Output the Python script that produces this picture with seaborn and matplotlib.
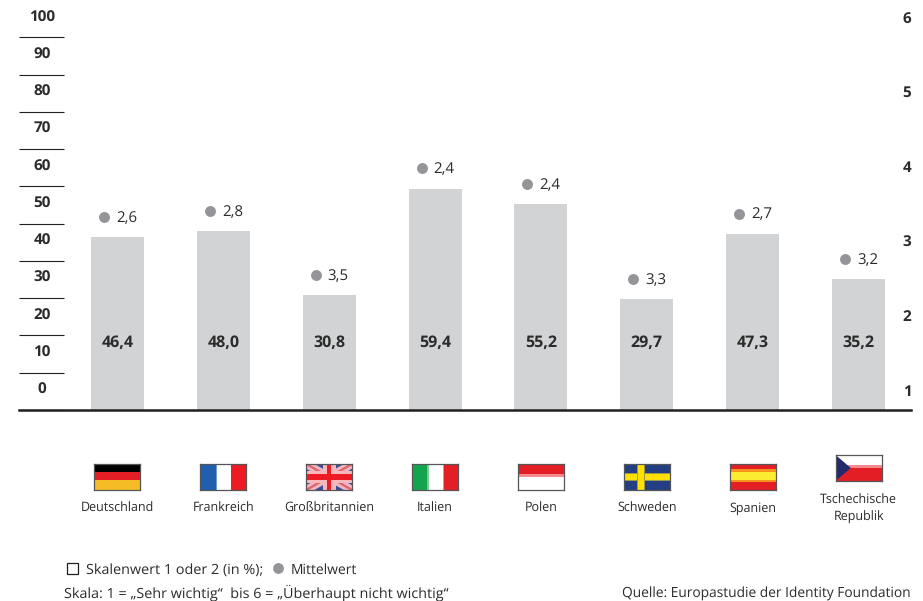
import pandas as pd
import matplotlib
matplotlib.use("Agg")
import matplotlib.pyplot as plt
from matplotlib.patches import Rectangle, Polygon
import seaborn as sns

# Werte aus der Grafik
laender = ["Deutschland", "Frankreich", "Großbritannien", "Italien",
           "Polen", "Schweden", "Spanien", "Tschechische\nRepublik"]
flaggen = ["de", "fr", "uk", "it", "pl", "se", "es", "cz"]
skalenwert = [46.4, 48.0, 30.8, 59.4, 55.2, 29.7, 47.3, 35.2]
mittelwert = [2.6, 2.8, 3.5, 2.4, 2.4, 3.3, 2.7, 3.2]
links_ticks = [0, 10, 20, 30, 40, 50, 60, 70, 80, 90, 100]
rechts_ticks = [1, 2, 3, 4, 5, 6]

BALKEN = "#D1D3D4"
PUNKT = "#939598"
TEXT = "#2b2b2b"
DUNKEL = "#231F20"

sns.set_theme(style="white")
plt.rcParams["font.family"] = ["Open Sans", "DejaVu Sans"]
plt.rcParams["text.hinting"] = "no_hinting"

df = pd.DataFrame({"land": laender, "wert": skalenwert, "mittel": mittelwert})
# die Punkte sitzen in der Vorlage immer knapp ueber dem Balken, links von der Mitte
df["punkt_y"] = df["wert"] + 5.4
df["punkt_x"] = df.index - 0.127

fig = plt.figure(figsize=(9.23, 6.01), dpi=100)
ax = fig.add_axes([19 / 923, 191 / 601, 892 / 923, 410 / 601])

sns.barplot(data=df, x="land", y="wert", color=BALKEN, saturation=1, width=0.5,
            linewidth=0, ax=ax)
sns.scatterplot(data=df, x="punkt_x", y="punkt_y", color=PUNKT, s=62, linewidth=0, ax=ax,
                zorder=3)

ax.set_xlim(-0.929, 7.495)
ax.set_ylim(0, 110)
ax.set_xlabel("")
ax.set_ylabel("")
ax.set_xticks([])
for s in ["top", "left", "right"]:
    ax.spines[s].set_visible(False)
ax.spines["bottom"].set_linewidth(1.8)
ax.spines["bottom"].set_color(DUNKEL)

# linke Skala: kurze Striche, Zahl steht jeweils darueber
ax.set_yticks(links_ticks)
ax.set_yticklabels([])
ax.tick_params(axis="y", left=True, direction="in", length=32.4, width=0.8, color=DUNKEL)
trans = ax.get_yaxis_transform()
for t in links_ticks:
    ax.text(23 / 892, t + 5.3, str(t), transform=trans, ha="center", va="center",
            fontsize=11, fontweight="bold", color=TEXT)

# rechte Skala 1 bis 6
ax2 = ax.twinx()
ax2.set_ylim(1 - 20 / 74.6, 1 + 390 / 74.6)
ax2.set_yticks(rechts_ticks)
ax2.set_yticklabels([str(t) for t in rechts_ticks], fontsize=11, fontweight="bold", color=TEXT)
ax2.tick_params(axis="y", right=False, pad=-12)
ax2.grid(False)
for s in ax2.spines.values():
    s.set_visible(False)

# Beschriftung der Balken und Punkte
for i, row in df.iterrows():
    ax.annotate(f"{row['wert']:.1f}".replace(".", ","), xy=(i, 0), xytext=(0, 67),
                textcoords="offset pixels", ha="center", va="center",
                fontsize=11.5, fontweight="bold", color=TEXT)
    ax.annotate(f"{row['mittel']:.1f}".replace(".", ","), xy=(row["punkt_x"], row["punkt_y"]),
                xytext=(12, -1), textcoords="offset pixels", ha="left", va="center",
                fontsize=10.8, color=TEXT)


def rechteck(a, x, y, w, h, farbe):
    a.add_patch(Rectangle((x, y), w, h, facecolor=farbe, edgecolor="none"))


def flagge(a, code):
    if code == "de":
        for y, f in zip([0.69, 0.38, 0], ["#000000", "#E31E24", "#F6BC25"]):
            rechteck(a, 0, y, 1, 0.38 if y == 0 else 0.31, f)
    elif code == "fr":
        rechteck(a, 0, 0, 1 / 3, 1, "#1F5FAD")
        rechteck(a, 1 / 3, 0, 0.04, 1, "#6F9BD1")
        rechteck(a, 2 / 3, 0, 1 / 3, 1, "#ED1C24")
    elif code == "uk":
        rechteck(a, 0, 0, 1, 1, "#3B4A96")
        for p in ([(0, 0.82), (0, 1), (0.18, 1), (1, 0.18), (1, 0), (0.82, 0)],
                  [(1, 0.82), (1, 1), (0.82, 1), (0, 0.18), (0, 0), (0.18, 0)]):
            a.add_patch(Polygon(p, facecolor="#EBB9BF", edgecolor="none"))
        for p in ([(0, 0.95), (0, 1), (0.05, 1), (1, 0.05), (1, 0), (0.95, 0)],
                  [(1, 0.95), (1, 1), (0.95, 1), (0, 0.05), (0, 0), (0.05, 0)]):
            a.add_patch(Polygon(p, facecolor="#E4606B", edgecolor="none"))
        rechteck(a, 0.36, 0, 0.28, 1, "#F6B8BC")
        rechteck(a, 0, 0.28, 1, 0.44, "#F6B8BC")
        rechteck(a, 0.45, 0, 0.10, 1, "#ED1C24")
        rechteck(a, 0, 0.40, 1, 0.20, "#ED1C24")
    elif code == "it":
        rechteck(a, 0, 0, 1 / 3, 1, "#14A44D")
        rechteck(a, 1 / 3, 0, 0.04, 1, "#7CCB98")
        rechteck(a, 2 / 3, 0, 0.04, 1, "#F08A8C")
        rechteck(a, 0.7, 0, 0.3, 1, "#E31E24")
    elif code == "pl":
        rechteck(a, 0, 0.5, 1, 0.12, "#F58A8E")
        rechteck(a, 0, 0.62, 1, 0.38, "#E31E24")
    elif code == "se":
        rechteck(a, 0, 0, 1, 1, "#233E82")
        rechteck(a, 0, 0.34, 1, 0.32, "#9C9A45")
        rechteck(a, 0, 0.40, 1, 0.20, "#FFE000")
        rechteck(a, 0.28, 0, 0.18, 1, "#9C9A45")
        rechteck(a, 0.31, 0, 0.12, 1, "#FFE000")
    elif code == "es":
        rechteck(a, 0, 0, 1, 1, "#E31E24")
        rechteck(a, 0, 0.31, 1, 0.49, "#F6931E")
        rechteck(a, 0, 0.38, 1, 0.31, "#F9EC31")
    elif code == "cz":
        rechteck(a, 0, 0, 1, 0.49, "#E31E24")
        rechteck(a, 0, 0.49, 1, 0.11, "#F58A8E")
        a.add_patch(Polygon([(0, 0), (0, 1), (0.33, 0.5)], facecolor="#232A6E", edgecolor="none"))


# Flaggen und Laendernamen unter der Achse
xt = ax.get_xaxis_transform()
for i, (name, code) in enumerate(zip(laender, flaggen)):
    tsch = code == "cz"
    unten = (410 - (481 if tsch else 490)) / 410
    fl = ax.inset_axes([i - 23 / 106, unten, 46 / 106, 26 / 410], transform=xt)
    fl.set_xlim(0, 1)
    fl.set_ylim(0, 1)
    fl.set_xticks([])
    fl.set_yticks([])
    for s in fl.spines.values():
        s.set_linewidth(0.9)
        s.set_color("#55565a")
    flagge(fl, code)
    ax.annotate(name, xy=(i, 0), xycoords=xt, xytext=(0, -98.5),
                textcoords="offset pixels", ha="center", va="center",
                fontsize=9, color=TEXT, linespacing=1.4, annotation_clip=False)

# Legende und Fussnoten
fig.add_artist(Rectangle((67 / 923, 1 - 574 / 601), 11 / 923, 11 / 601, facecolor="white",
                         edgecolor=DUNKEL, linewidth=0.9, transform=fig.transFigure))
fig.text(86 / 923, 1 - 573.5 / 601, "Skalenwert 1 oder 2 (in %);", ha="left", va="baseline",
         fontsize=10.4, color=TEXT)
fig.add_artist(plt.Line2D([278 / 923], [1 - 568 / 601], marker="o", markersize=7.8, color=PUNKT,
                          markeredgewidth=0, transform=fig.transFigure))
fig.text(291 / 923, 1 - 573.5 / 601, "Mittelwert", ha="left", va="baseline", fontsize=10, color=TEXT)
fig.text(64 / 923, 1 - 598 / 601, "Skala: 1 = „Sehr wichtig“  bis 6 = „Überhaupt nicht wichtig“",
         ha="left", va="baseline", fontsize=10.4, color=TEXT)
fig.text(911 / 923, 1 - 598 / 601, "Quelle: Europastudie der Identity Foundation",
         ha="right", va="baseline", fontsize=9.95, color=TEXT)

fig.savefig("out.png", dpi=100)
